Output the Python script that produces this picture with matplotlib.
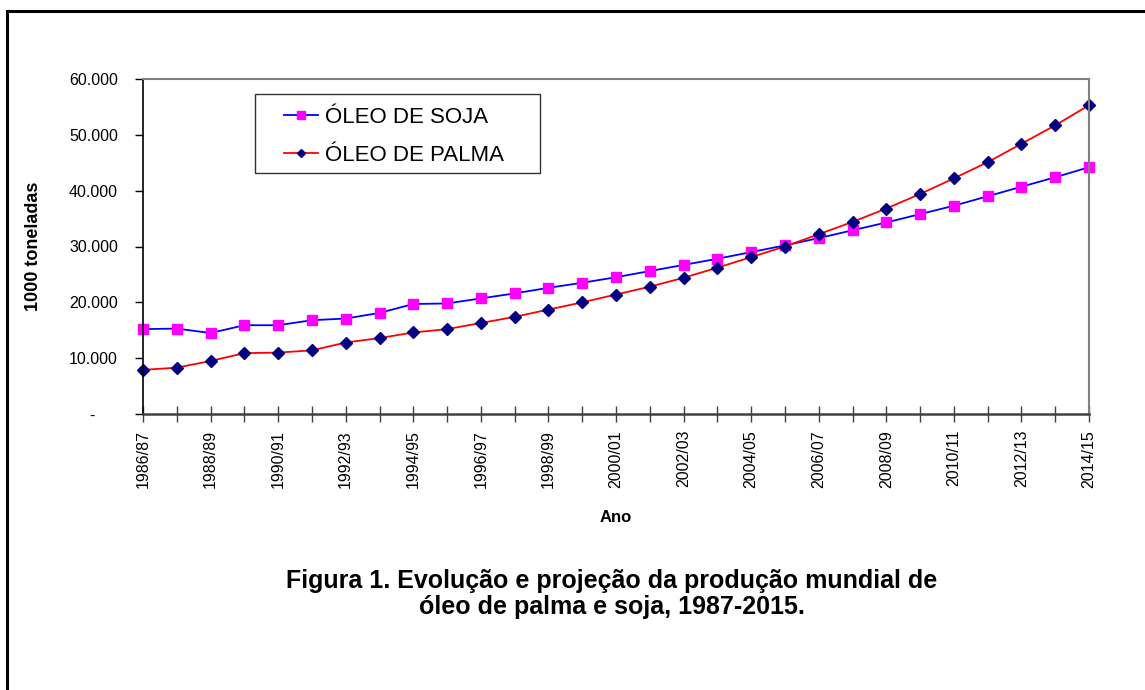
import matplotlib.pyplot as plt
from matplotlib.lines import Line2D
from matplotlib.patches import Rectangle
from matplotlib.ticker import FuncFormatter, MultipleLocator

plt.rcParams['font.family'] = ['Liberation Sans', 'DejaVu Sans']

safras = ['1986/87', '1987/88', '1988/89', '1989/90', '1990/91', '1991/92',
          '1992/93', '1993/94', '1994/95', '1995/96', '1996/97', '1997/98',
          '1998/99', '1999/00', '2000/01', '2001/02', '2002/03', '2003/04',
          '2004/05', '2005/06', '2006/07', '2007/08', '2008/09', '2009/10',
          '2010/11', '2011/12', '2012/13', '2013/14', '2014/15']

# 1000 toneladas
oleo_soja = [15200, 15300, 14500, 15900, 15900, 16800, 17100, 18100, 19700,
             19800, 20700, 21600, 22600, 23500, 24500, 25600, 26700, 27800,
             29000, 30200, 31500, 32900, 34300, 35800, 37300, 39000, 40700,
             42400, 44200]
oleo_palma = [7900, 8300, 9500, 10900, 11000, 11400, 12800, 13600, 14600,
              15200, 16300, 17400, 18700, 20000, 21400, 22800, 24400, 26200,
              28100, 30000, 32200, 34400, 36800, 39400, 42200, 45100, 48400,
              51700, 55300]

W, H = 1145, 690


def milhar(v, pos):
    if v == 0:
        return '-     '
    return f'{int(v):,}'.replace(',', '.')


fig = plt.figure(figsize=(W / 100, H / 100), dpi=100)
ax = fig.add_axes([143 / W, 1 - 414 / H, 946 / W, 335 / H])

x = range(len(safras))
ax.plot(x, oleo_soja, color='#0000ff', lw=1.3, marker='s', ms=7.5,
        mfc='#ff00ff', mec='#ff00ff', label='ÓLEO DE SOJA', clip_on=False)
ax.plot(x, oleo_palma, color='#ff0000', lw=1.3, marker='D', ms=6,
        mfc='#000080', mec='#000080', label='ÓLEO DE PALMA', clip_on=False)

ax.set_xlim(0, len(safras) - 1)
ax.set_ylim(0, 60000)
ax.yaxis.set_major_locator(MultipleLocator(10000))
ax.yaxis.set_major_formatter(FuncFormatter(milhar))
ax.set_xticks(list(x))
ax.set_xticklabels([s if i % 2 == 0 else '' for i, s in enumerate(safras)],
                   rotation=90)

ax.tick_params(axis='y', direction='out', length=6, width=1, labelsize=11.5,
               pad=12, colors='#000000')
ax.tick_params(axis='x', direction='inout', length=11, width=1, labelsize=11.5,
               pad=6, color='#404040')

for s in ['top', 'right']:
    ax.spines[s].set_color('#808080')
    ax.spines[s].set_linewidth(1.5)
ax.spines['left'].set_color('#000000')
ax.spines['left'].set_linewidth(1.2)
ax.spines['bottom'].set_color('#404040')
ax.spines['bottom'].set_linewidth(1.8)

# caixa da legenda desenhada a parte, legenda sem moldura dentro dela
ax.add_patch(Rectangle(((255 - 143) / 946, (414 - 173) / 335), 285 / 946,
                       79 / 335, transform=ax.transAxes, fill=False,
                       edgecolor='#333333', lw=1.0, clip_on=False))
ax.legend(loc='upper left', bbox_to_anchor=((284 - 143) / 946, (414 - 107) / 335),
          borderaxespad=0, borderpad=0, frameon=False, fontsize=16,
          numpoints=1, markerscale=0.75, handlelength=1.55, handletextpad=0.3,
          labelspacing=0.75)

fig.text(33 / W, 1 - 246 / H, '1000 toneladas', rotation=90,
         ha='center', va='center', fontsize=13, fontweight='bold')
fig.text(616 / W, 1 - 518 / H, 'Ano', ha='center', va='center',
         fontsize=12, fontweight='bold')
fig.text(612 / W, 1 - 594 / H,
         'Figura 1. Evolução e projeção da produção mundial de\n'
         'óleo de palma e soja, 1987-2015.',
         ha='center', va='center', multialignment='center', fontsize=18,
         fontweight='bold', linespacing=1.15)

# moldura externa (so topo e esquerda)
fig.add_artist(Line2D([7 / W, 1], [1 - 11 / H, 1 - 11 / H],
                      transform=fig.transFigure, color='black', lw=2.2))
fig.add_artist(Line2D([7 / W, 7 / W], [0, 1 - 11 / H],
                      transform=fig.transFigure, color='black', lw=2.2))

fig.savefig('out.png', dpi=100)
